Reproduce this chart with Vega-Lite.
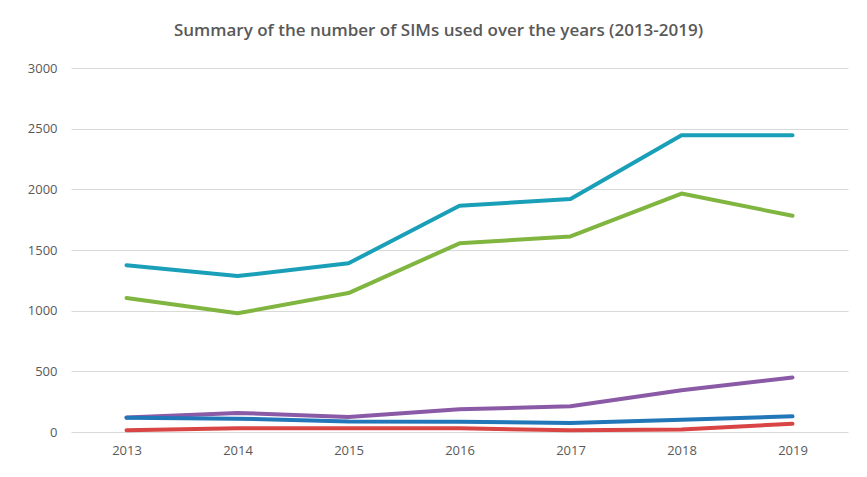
{
  "$schema": "https://vega.github.io/schema/vega-lite/v6.json",
  "autosize": "none",
  "width": 777,
  "height": 364,
  "padding": {"left": 71, "top": 68, "right": 19, "bottom": 45},
  "background": "white",
  "title": {
    "text": "Summary of the number of SIMs used over the years (2013-2019)",
    "font": "Open Sans",
    "fontSize": 17,
    "fontWeight": 600,
    "color": "#595959",
    "anchor": "middle",
    "dx": -21,
    "offset": 22
  },
  "data": {
    "values": [
      {"year": "2013", "series": "A", "value": 1375},
      {"year": "2014", "series": "A", "value": 1285},
      {"year": "2015", "series": "A", "value": 1390},
      {"year": "2016", "series": "A", "value": 1865},
      {"year": "2017", "series": "A", "value": 1920},
      {"year": "2018", "series": "A", "value": 2445},
      {"year": "2019", "series": "A", "value": 2445},
      {"year": "2013", "series": "B", "value": 1105},
      {"year": "2014", "series": "B", "value": 978},
      {"year": "2015", "series": "B", "value": 1145},
      {"year": "2016", "series": "B", "value": 1555},
      {"year": "2017", "series": "B", "value": 1612},
      {"year": "2018", "series": "B", "value": 1965},
      {"year": "2019", "series": "B", "value": 1782},
      {"year": "2013", "series": "C", "value": 120},
      {"year": "2014", "series": "C", "value": 157},
      {"year": "2015", "series": "C", "value": 124},
      {"year": "2016", "series": "C", "value": 187},
      {"year": "2017", "series": "C", "value": 212},
      {"year": "2018", "series": "C", "value": 344},
      {"year": "2019", "series": "C", "value": 450},
      {"year": "2013", "series": "D", "value": 118},
      {"year": "2014", "series": "D", "value": 110},
      {"year": "2015", "series": "D", "value": 87},
      {"year": "2016", "series": "D", "value": 85},
      {"year": "2017", "series": "D", "value": 74},
      {"year": "2018", "series": "D", "value": 100},
      {"year": "2019", "series": "D", "value": 129},
      {"year": "2013", "series": "E", "value": 14},
      {"year": "2014", "series": "E", "value": 30},
      {"year": "2015", "series": "E", "value": 30},
      {"year": "2016", "series": "E", "value": 30},
      {"year": "2017", "series": "E", "value": 14},
      {"year": "2018", "series": "E", "value": 20},
      {"year": "2019", "series": "E", "value": 68}
    ]
  },
  "mark": {"type": "line", "strokeWidth": 4, "interpolate": "linear", "strokeJoin": "round", "strokeCap": "round"},
  "encoding": {
    "x": {
      "field": "year",
      "type": "ordinal",
      "scale": {"type": "point", "padding": 0.5},
      "axis": {
        "title": null,
        "labelAngle": 0,
        "domain": false,
        "ticks": false,
        "labelPadding": 12,
        "labelFont": "Open Sans",
        "labelFontSize": 13,
        "labelColor": "#595959"
      }
    },
    "y": {
      "field": "value",
      "type": "quantitative",
      "scale": {"domain": [0, 3000]},
      "axis": {
        "title": null,
        "values": [0, 500, 1000, 1500, 2000, 2500, 3000],
        "format": "d",
        "domain": false,
        "ticks": false,
        "labelPadding": 14,
        "labelFont": "Open Sans",
        "labelFontSize": 13,
        "labelColor": "#595959",
        "gridColor": "#d9d9d9",
        "gridWidth": 1
      }
    },
    "color": {
      "field": "series",
      "type": "nominal",
      "scale": {
        "domain": ["A", "B", "C", "D", "E"],
        "range": ["#1a9fb8", "#80b540", "#8a5aa6", "#2277b8", "#d94545"]
      },
      "legend": null
    },
    "order": {"field": "series"}
  },
  "config": {"view": {"stroke": null}}
}
